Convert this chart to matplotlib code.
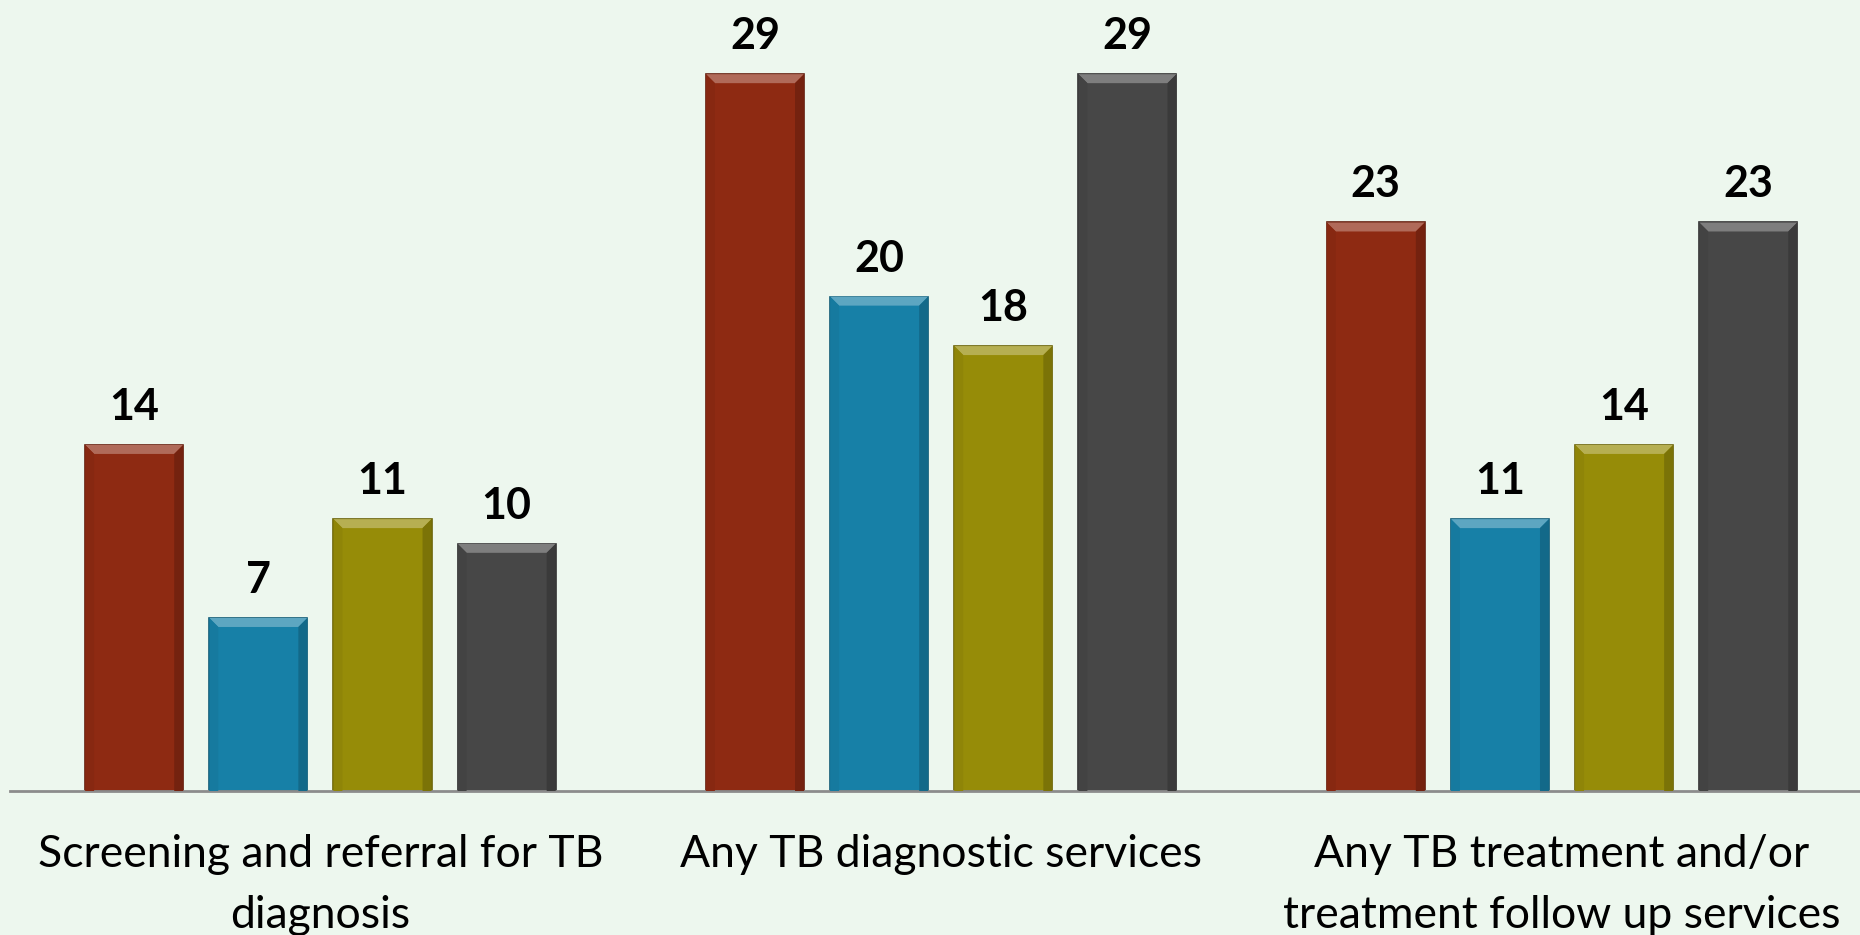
import matplotlib
matplotlib.use('Agg')
import matplotlib.pyplot as plt
from matplotlib.patches import Polygon
import matplotlib.colors as mcolors
import numpy as np

categories = ['Screening and referral for TB\ndiagnosis',
              'Any TB diagnostic services',
              'Any TB treatment and/or\ntreatment follow up services']
series_red = [14, 29, 23]
series_blue = [7, 20, 11]
series_yellow = [11, 18, 14]
series_gray = [10, 29, 23]

series = [series_red, series_blue, series_yellow, series_gray]
colors = ['#8E2A12', '#1780A7', '#968C08', '#474747']

bg = '#EDF7EE'
plt.rcParams['font.family'] = ['Lato', 'DejaVu Sans']

fig = plt.figure(figsize=(18.6, 9.35), dpi=100, facecolor=bg)
ax = fig.add_axes([10 / 1860, 0.154, 1 - 10 / 1860, 0.846])
ax.set_facecolor(bg)

x = np.arange(len(categories))
width = 0.158
offsets = [-0.3, -0.1, 0.1, 0.3]

ax.set_xlim(-0.5, 2.48)
ax.set_ylim(0, 32)

# bevel size in data units (about 9 px)
ax_w = fig.get_figwidth() * fig.dpi * (1 - 10 / 1860)
ax_h = fig.get_figheight() * fig.dpi * 0.846
bx = 9 * 2.98 / ax_w
by = 9 * 32 / ax_h

def shade(c, f):
    r, g, b = mcolors.to_rgb(c)
    if f > 0:
        return (r + (1 - r) * f, g + (1 - g) * f, b + (1 - b) * f)
    return (r * (1 + f), g * (1 + f), b * (1 + f))

for vals, off, col in zip(series, offsets, colors):
    bars = ax.bar(x + off, vals, width, color=col, edgecolor=shade(col, -0.3),
                  linewidth=1.2, zorder=2)
    for b, v in zip(bars, vals):
        x0, w, h = b.get_x(), b.get_width(), b.get_height()
        top = Polygon([(x0, h), (x0 + w, h), (x0 + w - bx, h - by), (x0 + bx, h - by)],
                      closed=True, facecolor=shade(col, 0.3), edgecolor='none', zorder=3)
        left = Polygon([(x0, h), (x0 + bx, h - by), (x0 + bx, 0), (x0, 0)],
                       closed=True, facecolor=shade(col, -0.05), edgecolor='none', zorder=3)
        right = Polygon([(x0 + w, h), (x0 + w - bx, h - by), (x0 + w - bx, 0), (x0 + w, 0)],
                        closed=True, facecolor=shade(col, -0.18), edgecolor='none', zorder=3)
        for p in (top, left, right):
            ax.add_patch(p)
        ax.annotate(str(v), (x0 + w / 2, h), xytext=(0, 13), textcoords='offset points',
                    ha='center', va='bottom', fontsize=31, fontweight='bold', color='black')

for s in ['top', 'right', 'left']:
    ax.spines[s].set_visible(False)
ax.spines['bottom'].set_color('#8C8C8C')
ax.spines['bottom'].set_linewidth(2)
ax.set_yticks([])
ax.set_xticks(x)
ax.set_xticklabels(categories, fontsize=32, linespacing=1.6, va='top')
ax.tick_params(axis='x', length=0, pad=31)

fig.savefig('out.png', dpi=100, facecolor=bg)
